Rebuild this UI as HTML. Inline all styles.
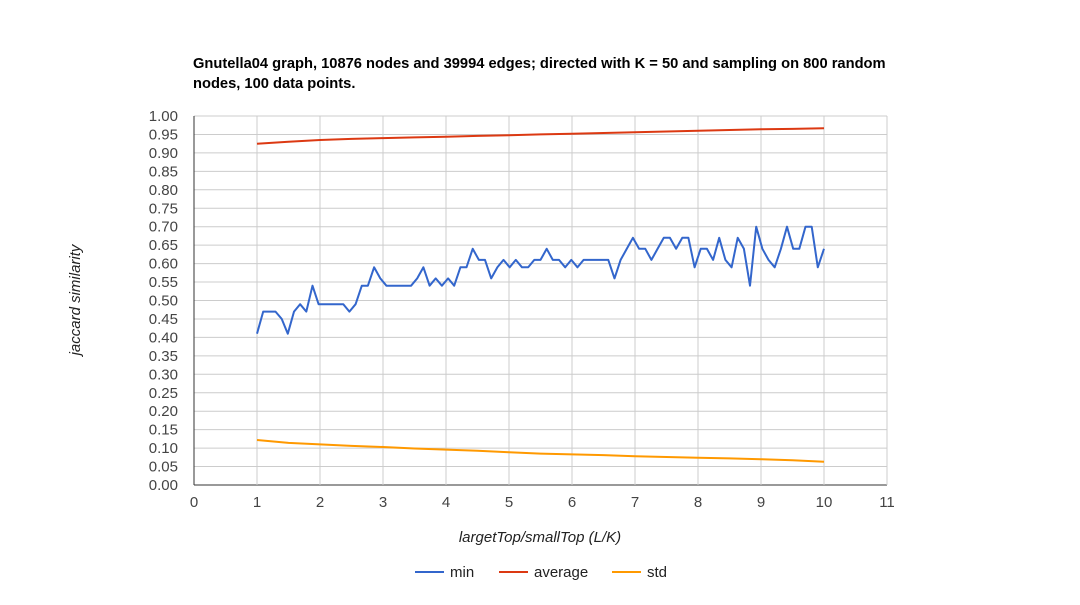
<!DOCTYPE html>
<html><head><meta charset="utf-8"><style>
body{margin:0;background:#fff;font-family:"Liberation Sans",Arial,sans-serif}
</style></head><body>
<svg id="chart" width="1080" height="600" xmlns="http://www.w3.org/2000/svg" font-family="Liberation Sans, Arial, sans-serif">
<rect width="1080" height="600" fill="#fff"/>
<text x="193" y="68" font-size="14.7" font-weight="bold" fill="#000">Gnutella04 graph, 10876 nodes and 39994 edges; directed with K = 50 and sampling on 800 random</text>
<text x="193" y="88" font-size="14.7" font-weight="bold" fill="#000">nodes, 100 data points.</text>
<g id="grid"></g><g id="axes"></g><g id="series"></g>
<text transform="translate(80,300) rotate(-90)" text-anchor="middle" font-size="15" font-style="italic" fill="#222">jaccard similarity</text>
<text x="540" y="542" text-anchor="middle" font-size="15" font-style="italic" fill="#222">largetTop/smallTop (L/K)</text>
<g>
<g><line x1="415" y1="572" x2="444" y2="572" stroke="#3366cc" stroke-width="2"/><text x="450" y="577" font-size="15" fill="#222">min</text></g>
<g><line x1="499" y1="572" x2="528" y2="572" stroke="#dc3912" stroke-width="2"/><text x="534" y="577" font-size="15" fill="#222">average</text></g>
<g><line x1="612" y1="572" x2="641" y2="572" stroke="#ff9900" stroke-width="2"/><text x="647" y="577" font-size="15" fill="#222">std</text></g>
</g>
</svg>
<script>
const minValues=[.41,.47,.47,.47,.45,.41,.47,.49,.47,.54,.49,.49,.49,.49,.49,.47,.49,.54,.54,.59,.56,.54,.54,.54,.54,.54,.56,.59,.54,.56,.54,.56,.54,.59,.59,.64,.61,.61,.56,.59,.61,.59,.61,.59,.59,.61,.61,.64,.61,.61,.59,.61,.59,.61,.61,.61,.61,.61,.56,.61,.64,.67,.64,.64,.61,.64,.67,.67,.64,.67,.67,.59,.64,.64,.61,.67,.61,.59,.67,.64,.54,.70,.64,.61,.59,.64,.70,.64,.64,.70,.70,.59,.64];
const avgValues=[.925,.930,.935,.938,.940,.942,.944,.946,.948,.950,.952,.954,.956,.958,.960,.962,.964,.965,.967];
const stdValues=[.122,.114,.110,.106,.103,.099,.096,.093,.089,.085,.083,.081,.078,.076,.074,.072,.070,.067,.063];
const xTicks=[0,1,2,3,4,5,6,7,8,9,10,11];
const yTicks=[0,.05,.1,.15,.2,.25,.3,.35,.4,.45,.5,.55,.6,.65,.7,.75,.8,.85,.9,.95,1];
const X0=194,X1=887,Y0=485,Y1=116;
const xs=v=>X0+(v/11)*(X1-X0);
const ys=v=>Y0-v*(Y0-Y1);
const NS="http://www.w3.org/2000/svg";
function mk(tag,attrs,parent){const e=document.createElementNS(NS,tag);for(const k in attrs)e.setAttribute(k,attrs[k]);parent.appendChild(e);return e;}
const grid=document.getElementById('grid'),axes=document.getElementById('axes'),series=document.getElementById('series');
yTicks.forEach(t=>{
 const l=mk('line',{x1:X0,x2:X1,y1:ys(t),y2:ys(t),stroke:t===0?'#333':'#ccc','stroke-width':1},grid);
 
 
 const tx=mk('text',{x:178,y:ys(t)+5,'text-anchor':'end','font-size':15,fill:'#444'},axes);
 tx.textContent=t.toFixed(2);
 
 
});
xTicks.forEach(t=>{
 const l=mk('line',{x1:xs(t),x2:xs(t),y1:Y1,y2:Y0,stroke:t===0?'#333':'#ccc','stroke-width':1},grid);
 
 
 const tx=mk('text',{x:xs(t),y:507,'text-anchor':'middle','font-size':15,fill:'#444'},axes);
 tx.textContent=t;
 
 
});
function line(vals,color,name){
 const n=vals.length;
 const pts=vals.map((v,i)=>xs(1+i*9/(n-1)).toFixed(1)+','+ys(v).toFixed(1)).join(' ');
 const p=mk('polyline',{points:pts,fill:'none',stroke:color,'stroke-width':2,'stroke-linejoin':'round'},series);
 
 
}
line(minValues,'#3366cc','min-line');
line(avgValues,'#dc3912','average-line');
line(stdValues,'#ff9900','std-line');
</script>
</body></html>
